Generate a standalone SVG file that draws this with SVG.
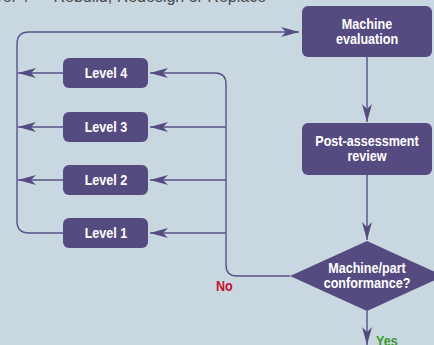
<svg xmlns="http://www.w3.org/2000/svg" width="434" height="345" viewBox="0 0 434 345">
  <defs>
    <marker id="arrow" markerUnits="userSpaceOnUse" markerWidth="18" markerHeight="10" refX="18" refY="5" orient="auto" viewBox="0 0 18 10">
      <path d="M0,0 L18,5 L0,10 L5,5 Z" fill="#554b82"/>
    </marker>
    <style>
      .box { fill: #554b81; }
      .lbl { fill: #ffffff; font-family: "Liberation Sans", Arial, sans-serif; font-weight: bold; font-size: 14px; text-anchor: middle; }
      .wire { fill: none; stroke: #5a5188; stroke-width: 1.4; }
      .arr { marker-end: url(#arrow); }
      .title { fill: #4a4a4a; font-family: "Liberation Sans", Arial, sans-serif; font-size: 16px; }
      .tag { font-family: "Liberation Sans", Arial, sans-serif; font-weight: bold; font-size: 14px; }
    </style>
  </defs>

  <rect width="434" height="345" fill="#c9d7e0"/>

  <!-- heading, mostly above the top edge -->
  <text class="title" x="-23" y="2">Level 4 — Rebuild, Redesign or Replace</text>

  <!-- connectors -->
  <g id="connectors">
    <path class="wire arr" d="M367,57 V122"/>
    <path class="wire arr" d="M367,175 V240"/>
    <path class="wire arr" d="M367,311 V345"/>
    <!-- "No" branch back to the level boxes -->
    <path class="wire arr" d="M290,276 H237 Q226,276 226,265 V84 Q226,73 215,73 H150"/>
    <path class="wire arr" d="M226,127 H150"/>
    <path class="wire arr" d="M226,180 H150"/>
    <path class="wire arr" d="M226,233 H150"/>
    <!-- levels out to the return line -->
    <path class="wire arr" d="M63,73 H18"/>
    <path class="wire arr" d="M63,127 H18"/>
    <path class="wire arr" d="M63,180 H18"/>
    <path class="wire arr" d="M63,233 H29 Q17,233 17,221 V44 Q17,32 29,32 H299"/>
  </g>

  <!-- labels use a narrowed bold sans (scaleX 0.9) -->
  <g id="machine-evaluation">
    <rect class="box" x="302" y="6" width="130" height="51" rx="6"/>
    <text class="lbl" transform="translate(367 29) scale(0.9 1)">Machine</text>
    <text class="lbl" transform="translate(367 44) scale(0.9 1)">evaluation</text>
  </g>

  <g id="post-assessment-review">
    <rect class="box" x="302" y="123" width="130" height="52" rx="6"/>
    <text class="lbl" transform="translate(367 146) scale(0.9 1)">Post-assessment</text>
    <text class="lbl" transform="translate(367 161) scale(0.9 1)">review</text>
  </g>

  <g id="conformance">
    <polygon class="box" points="367,241 444,276 367,311 290,276"/>
    <text class="lbl" transform="translate(367 273) scale(0.9 1)">Machine/part</text>
    <text class="lbl" transform="translate(367 288) scale(0.9 1)">conformance?</text>
  </g>

  <g id="level-4">
    <rect class="box" x="63" y="58" width="85" height="30" rx="6"/>
    <text class="lbl" transform="translate(106 78) scale(0.9 1)">Level 4</text>
  </g>
  <g id="level-3">
    <rect class="box" x="63" y="112" width="85" height="30" rx="6"/>
    <text class="lbl" transform="translate(106 132) scale(0.9 1)">Level 3</text>
  </g>
  <g id="level-2">
    <rect class="box" x="63" y="165" width="85" height="30" rx="6"/>
    <text class="lbl" transform="translate(106 185) scale(0.9 1)">Level 2</text>
  </g>
  <g id="level-1">
    <rect class="box" x="63" y="218" width="85" height="30" rx="6"/>
    <text class="lbl" transform="translate(106 238) scale(0.9 1)">Level 1</text>
  </g>

  <text class="tag" transform="translate(216 291) scale(0.9 1)" fill="#c8102e">No</text>
  <text class="tag" transform="translate(376 346) scale(0.9 1)" fill="#3a9a2a">Yes</text>
</svg>
